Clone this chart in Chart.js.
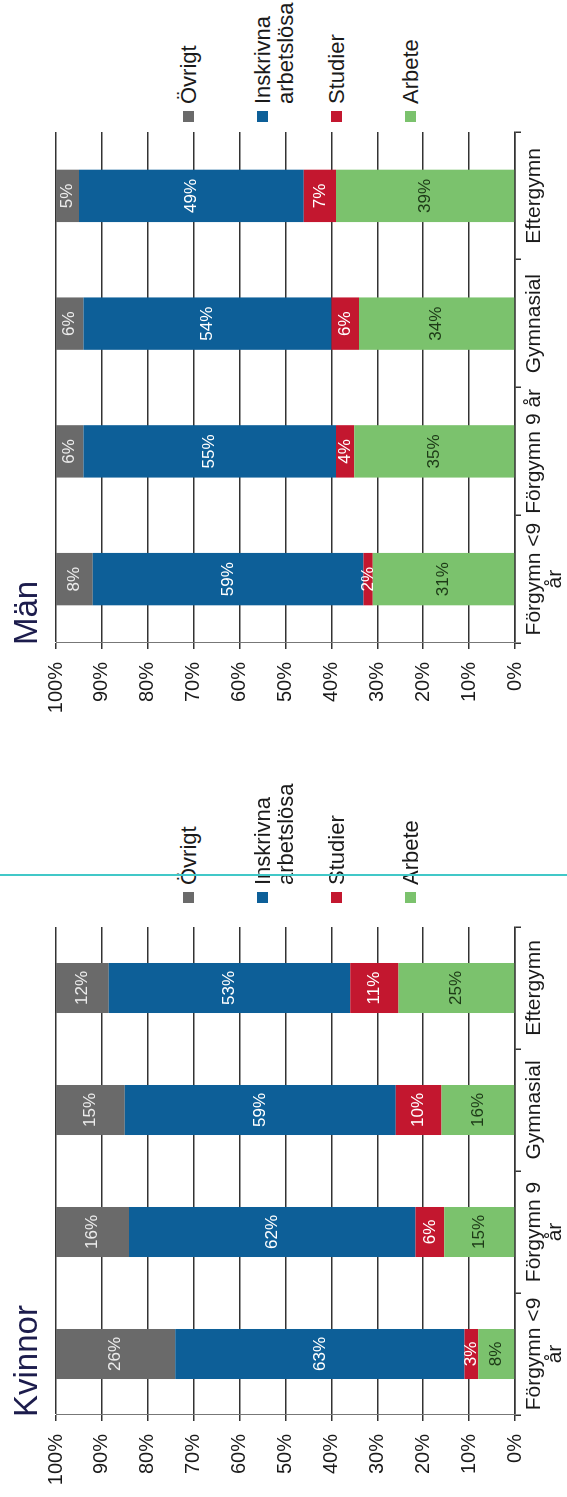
<!DOCTYPE html>
<html>
<head>
<meta charset="utf-8">
<script src="https://cdn.jsdelivr.net/npm/chart.js@4.4.1/dist/chart.umd.min.js"></script>
<style>
    html, body { margin: 0; padding: 0; background: #fff; width: 567px; height: 1497px; overflow: hidden; }
    /* the slide is drawn landscape and turned a quarter to the left */
    #frame { position: absolute; left: 0; top: 0; width: 1497px; height: 567px; transform-origin: 0 0;
             transform: translateY(1497px) rotate(-90deg); font-family: 'Liberation Sans', Arial, sans-serif; color: #1a1a1a; }
    #frame canvas { position: absolute; top: 0; }
    .title { position: absolute; top: 9px; font-size: 33px; line-height: 33px; color: #1c1c4c; }
    .leg { position: absolute; font-size: 22px; line-height: 23px; white-space: nowrap; }
    .leg i { position: absolute; width: 11px; height: 11px; left: -18px; top: 6px; }
    .cyan { position: absolute; left: 621px; top: 0; width: 1.5px; height: 567px; background: #41c8c8; }
</style>
</head>
<body>
<div id="frame">
    <canvas id="kvinnor" width="600" height="567" style="left:0"></canvas>
    <canvas id="man" width="600" height="567" style="left:772px"></canvas>
    <div class="title" style="left:80px">Kvinnor</div>
    <div class="title" style="left:852px">Män</div>
    <div id="legK"></div>
    <div id="legM"></div>
    <div class="cyan"></div>
</div>
<script>
// Data (procent)
const categoriesKvinnor = [['Förgymn <9', 'år'], ['Förgymn 9', 'år'], 'Gymnasial', 'Eftergymn'];
const categoriesMan = [['Förgymn <9', 'år'], 'Förgymn 9 år', 'Gymnasial', 'Eftergymn'];
const seriesNames = ['Arbete', 'Studier', 'Inskrivna arbetslösa', 'Övrigt'];

const kvinnorArbete = [8, 15.4, 16, 25.4];
const kvinnorStudier = [3, 6.3, 10, 10.5];
const kvinnorInskrivna = [63, 62.4, 59, 52.6];
const kvinnorOvrigt = [26, 15.9, 15, 11.5];

const manArbete = [31, 35, 34, 39];
const manStudier = [2, 4, 6, 7];
const manInskrivna = [59, 55, 54, 49];
const manOvrigt = [8, 6, 6, 5];

const seriesColors = ['#7bc26d', '#c3172f', '#0d5f98', '#6a6a6a'];
const labelColors = ['#1d3a17', '#ffffff', '#ffffff', '#ececec'];

Chart.defaults.font.family = "'Liberation Sans', Arial, sans-serif";
Chart.defaults.color = '#1a1a1a';

// procenttal mitt i varje segment
const barLabels = {
    id: 'barLabels',
    afterDatasetsDraw(chart) {
        const ctx = chart.ctx;
        ctx.save();
        ctx.font = "17px 'Liberation Sans', Arial, sans-serif";
        ctx.textAlign = 'center';
        ctx.textBaseline = 'middle';
        chart.data.datasets.forEach((ds, i) => {
            chart.getDatasetMeta(i).data.forEach((bar, j) => {
                const p = bar.getCenterPoint();
                ctx.fillStyle = labelColors[i];
                ctx.fillText(Math.round(ds.data[j]) + '%', p.x, p.y);
            });
        });
        ctx.restore();
    }
};

function makeChart(id, labels, series, padRight) {
    const ctx = document.getElementById(id).getContext('2d');
    return new Chart(ctx, {
        type: 'bar',
        data: {
            labels: labels,
            datasets: series.map((data, i) => ({
                label: seriesNames[i],
                data: data,
                backgroundColor: seriesColors[i],
                borderWidth: 0,
                categoryPercentage: 1,
                barPercentage: 0.41
            }))
        },
        options: {
            responsive: false,
            animation: false,
            layout: { padding: { top: 56, right: padRight, left: 0, bottom: 0 } },
            plugins: {
                legend: { display: false },
                tooltip: { enabled: false }
            },
            scales: {
                x: {
                    stacked: true,
                    grid: { offset: true, drawOnChartArea: false, drawTicks: true, tickLength: 6, color: '#333', lineWidth: 1.5 },
                    border: { display: true, color: '#333', width: 1.5 },
                    ticks: { font: { size: 21, lineHeight: 1.0 }, color: '#1a1a1a', maxRotation: 0, autoSkip: false, padding: 3 },
                    afterFit: function(scale) { scale.height = 52; }
                },
                y: {
                    stacked: true,
                    min: 0,
                    max: 100,
                    grid: { color: '#333', lineWidth: 1.5, tickLength: 6 },
                    border: { display: true, color: '#777', width: 1 },
                    ticks: {
                        stepSize: 10,
                        padding: 13,
                        color: '#1a1a1a',
                        font: { size: 20 },
                        callback: function(value) { return value + '%'; }
                    },
                    afterFit: function(scale) { scale.width = 82; }
                }
            }
        },
        plugins: [barLabels]
    });
}

makeChart('kvinnor', categoriesKvinnor, [kvinnorArbete, kvinnorStudier, kvinnorInskrivna, kvinnorOvrigt], 30);
makeChart('man', categoriesMan, [manArbete, manStudier, manInskrivna, manOvrigt], 7);

// förklaring, uppifrån: Övrigt, Inskrivna, Studier, Arbete
function buildLegend(elId, left) {
    const el = document.getElementById(elId);
    const rows = [188, 262, 336, 410];
    [3, 2, 1, 0].forEach((s, k) => {
        const d = document.createElement('div');
        d.className = 'leg';
        d.style.left = left + 'px';
        d.style.top = (rows[k] - 11) + 'px';
        d.innerHTML = '<i style="background:' + seriesColors[s] + '"></i>' + seriesNames[s].replace(' ', '<br>');
        el.appendChild(d);
    });
}
buildLegend('legK', 612);
buildLegend('legM', 1393);
</script>
</body>
</html>
